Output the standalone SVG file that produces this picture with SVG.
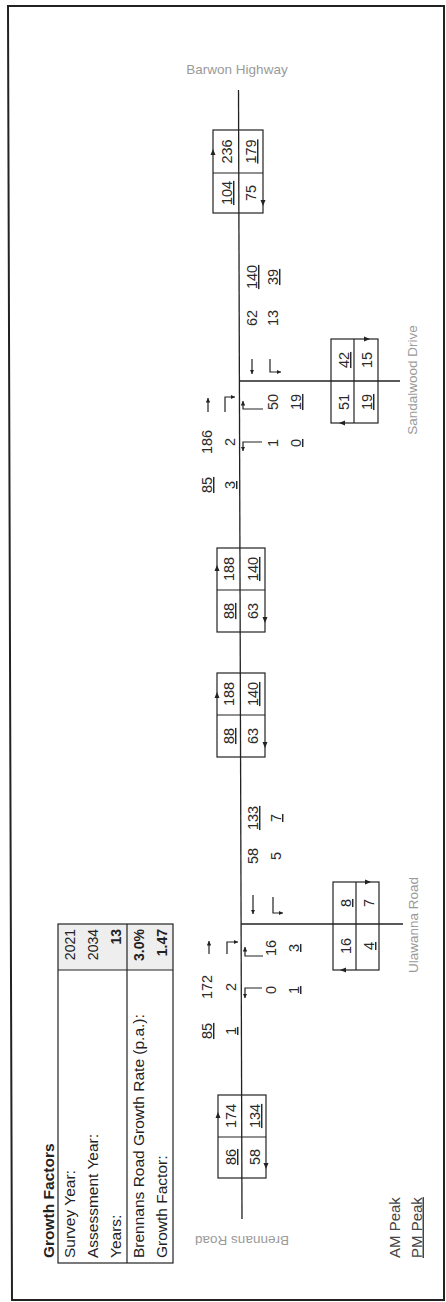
<svg xmlns="http://www.w3.org/2000/svg" width="446" height="1302" viewBox="0 0 446 1302">
<defs>
<style>
.n{font-family:"Liberation Sans",Arial,sans-serif;font-size:14.5px;fill:#2a2a2a;text-anchor:middle}
.u{text-decoration:underline}
.g{font-family:"Liberation Sans",Arial,sans-serif;font-size:13.5px;fill:#9a9a9a;text-anchor:middle}
.t{font-family:"Liberation Sans",Arial,sans-serif;font-size:15.5px;fill:#222}
.v{font-family:"Liberation Sans",Arial,sans-serif;font-size:14px;fill:#222;text-anchor:end}
.b{font-weight:bold}
.lg{font-family:"Liberation Sans",Arial,sans-serif;font-size:15px;fill:#444}
.ln{stroke:#222;stroke-width:1.3;fill:none}
.bx{stroke:#222;stroke-width:1.2;fill:none}
.ar{stroke:#222;stroke-width:1.2;fill:none;marker-end:url(#ah)}
.hd{fill:#222}
</style>
<marker id="ah" viewBox="0 0 8 8" refX="8" refY="4" markerWidth="4.5" markerHeight="4.5" orient="auto" markerUnits="userSpaceOnUse"><path d="M0,0 L8,4 L0,8 z" fill="#222"/></marker>
</defs>
<rect x="0" y="0" width="446" height="1302" fill="#fff"/>
<g id="frame"><path d="M8,6 L444,6 L444,1300 L12,1300 Z" fill="none" stroke="#222" stroke-width="2"/></g>

<g id="growth-factors">
<rect x="58" y="924" width="115" height="46" fill="#eeeeee"/>
<rect x="58" y="924" width="115" height="339" class="bx"/>
<line x1="127" y1="924" x2="127" y2="1263" class="bx"/>
<line x1="58" y1="970" x2="173" y2="970" class="bx"/>
<text class="t b" transform="translate(48,1258) rotate(-90)" y="5.5" font-size="15">Growth Factors</text>
<text class="t" transform="translate(69.5,1258) rotate(-90)" y="5.5">Survey Year:</text>
<text class="t" transform="translate(92.5,1258) rotate(-90)" y="5.5">Assessment Year:</text>
<text class="t" transform="translate(115.5,1258) rotate(-90)" y="5.5">Years:</text>
<text class="t" transform="translate(138.5,1258) rotate(-90)" y="5.5">Brennans Road Growth Rate (p.a.):</text>
<text class="t" transform="translate(161.5,1258) rotate(-90)" y="5.5">Growth Factor:</text>
<text class="v" transform="translate(69.5,929) rotate(-90)" y="5">2021</text>
<text class="v" transform="translate(92.5,929) rotate(-90)" y="5">2034</text>
<text class="v b" transform="translate(115.5,929) rotate(-90)" y="5">13</text>
<text class="v b" transform="translate(138.5,929) rotate(-90)" y="5">3.0%</text>
<text class="v b" transform="translate(161.5,929) rotate(-90)" y="5">1.47</text>
</g>

<g id="connectors">
<line x1="238.5" y1="90" x2="242" y2="1219" class="ln"/>
<line x1="241" y1="924" x2="403" y2="924" class="ln"/>
<line x1="239.4" y1="381" x2="400" y2="381" class="ln"/>
</g>

<g id="box-barwon">
<rect x="213" y="130" width="50" height="83" class="bx"/>
<line x1="213" y1="173" x2="263" y2="173" class="bx"/>
<polygon class="hd" points="210.5,155 213,149 215.5,155"/>
<polygon class="hd" points="260.5,200 263,206 265.5,200"/>
<text class="n" transform="translate(227,151.5) rotate(-90)" y="5">236</text>
<text class="n u" transform="translate(251,151.5) rotate(-90)" y="5">179</text>
<text class="n u" transform="translate(227,193) rotate(-90)" y="5">104</text>
<text class="n" transform="translate(251,193) rotate(-90)" y="5">75</text>
</g>

<g id="box-mid-east">
<rect x="217" y="548" width="48" height="84" class="bx"/>
<line x1="217" y1="590" x2="265" y2="590" class="bx"/>
<polygon class="hd" points="214.5,571 217,565 219.5,571"/>
<polygon class="hd" points="262.5,617 265,623 267.5,617"/>
<text class="n" transform="translate(229,569) rotate(-90)" y="5">188</text>
<text class="n u" transform="translate(253,569) rotate(-90)" y="5">140</text>
<text class="n u" transform="translate(229,611) rotate(-90)" y="5">88</text>
<text class="n" transform="translate(253,611) rotate(-90)" y="5">63</text>
</g>

<g id="box-mid-west">
<rect x="217" y="673" width="48" height="84" class="bx"/>
<line x1="217" y1="715" x2="265" y2="715" class="bx"/>
<polygon class="hd" points="214.5,698 217,692 219.5,698"/>
<polygon class="hd" points="262.5,742 265,748 267.5,742"/>
<text class="n" transform="translate(229,694) rotate(-90)" y="5">188</text>
<text class="n u" transform="translate(253,694) rotate(-90)" y="5">140</text>
<text class="n u" transform="translate(229,736) rotate(-90)" y="5">88</text>
<text class="n" transform="translate(253,736) rotate(-90)" y="5">63</text>
</g>

<g id="box-brennans">
<rect x="218" y="1095" width="48" height="83" class="bx"/>
<line x1="218" y1="1137" x2="266" y2="1137" class="bx"/>
<polygon class="hd" points="215.5,1118 218,1112 220.5,1118"/>
<polygon class="hd" points="263.5,1163 266,1169 268.5,1163"/>
<text class="n" transform="translate(231,1116) rotate(-90)" y="5">174</text>
<text class="n u" transform="translate(255,1116) rotate(-90)" y="5">134</text>
<text class="n u" transform="translate(231,1157) rotate(-90)" y="5">86</text>
<text class="n" transform="translate(255,1157) rotate(-90)" y="5">58</text>
</g>

<g id="box-ulawanna">
<rect x="333" y="882" width="46" height="88" class="bx"/>
<line x1="356" y1="882" x2="356" y2="970" class="bx"/>
<polygon class="hd" points="365,879.5 371,882 365,884.5"/>
<polygon class="hd" points="346,967.5 340,970 346,972.5"/>
<text class="n u" transform="translate(346,903) rotate(-90)" y="5">8</text>
<text class="n" transform="translate(369,903) rotate(-90)" y="5">7</text>
<text class="n" transform="translate(346,946) rotate(-90)" y="5">16</text>
<text class="n u" transform="translate(369,946) rotate(-90)" y="5">4</text>
</g>

<g id="box-sandalwood">
<rect x="331" y="339" width="47" height="84" class="bx"/>
<line x1="354" y1="339" x2="354" y2="423" class="bx"/>
<polygon class="hd" points="364,336.5 370,339 364,341.5"/>
<polygon class="hd" points="345,420.5 339,423 345,425.5"/>
<text class="n u" transform="translate(344,360) rotate(-90)" y="5">42</text>
<text class="n" transform="translate(367,360) rotate(-90)" y="5">15</text>
<text class="n" transform="translate(344,402) rotate(-90)" y="5">51</text>
<text class="n u" transform="translate(367,402) rotate(-90)" y="5">19</text>
</g>

<g id="int-ulawanna">
<text class="n u" transform="translate(207,1031) rotate(-90)" y="5">85</text>
<text class="n u" transform="translate(231,1031) rotate(-90)" y="5">1</text>
<text class="n" transform="translate(207,987) rotate(-90)" y="5">172</text>
<text class="n" transform="translate(231,987) rotate(-90)" y="5">2</text>
<path class="ar" d="M209,954 V941"/>
<path class="ar" d="M227,954 V942 H238"/>
<path class="ar" d="M263,956 H245 V947"/>
<path class="ar" d="M262,988 H245 V998"/>
<text class="n" transform="translate(271,948) rotate(-90)" y="5">16</text>
<text class="n u" transform="translate(294,948) rotate(-90)" y="5">3</text>
<text class="n" transform="translate(271,990) rotate(-90)" y="5">0</text>
<text class="n u" transform="translate(294,990) rotate(-90)" y="5">1</text>
<path class="ar" d="M253,895 V914"/>
<path class="ar" d="M273,897 V913 H283"/>
<text class="n" transform="translate(253,856) rotate(-90)" y="5">58</text>
<text class="n" transform="translate(276,856) rotate(-90)" y="5">5</text>
<text class="n u" transform="translate(253,818) rotate(-90)" y="5">133</text>
<text class="n u" transform="translate(276,818) rotate(-90)" y="5">7</text>
</g>

<g id="int-sandalwood">
<text class="n u" transform="translate(207,485) rotate(-90)" y="5">85</text>
<text class="n u" transform="translate(230,485) rotate(-90)" y="5">3</text>
<text class="n" transform="translate(207,442) rotate(-90)" y="5">186</text>
<text class="n" transform="translate(230,442) rotate(-90)" y="5">2</text>
<path class="ar" d="M208,412 V398"/>
<path class="ar" d="M225,412 V397 H235"/>
<path class="ar" d="M263,409 H243 V401"/>
<path class="ar" d="M262,442 H243 V451"/>
<text class="n" transform="translate(273,402) rotate(-90)" y="5">50</text>
<text class="n u" transform="translate(296,402) rotate(-90)" y="5">19</text>
<text class="n" transform="translate(273,443) rotate(-90)" y="5">1</text>
<text class="n u" transform="translate(296,443) rotate(-90)" y="5">0</text>
<path class="ar" d="M252,359 V374"/>
<path class="ar" d="M270,359 V372 H281"/>
<text class="n" transform="translate(252,318) rotate(-90)" y="5">62</text>
<text class="n" transform="translate(273,318) rotate(-90)" y="5">13</text>
<text class="n u" transform="translate(252,277) rotate(-90)" y="5">140</text>
<text class="n u" transform="translate(273,277) rotate(-90)" y="5">39</text>
</g>

<g id="road-labels">
<text class="g" x="237" y="74">Barwon Highway</text>
<text class="g" transform="translate(242,1240) rotate(180)" y="4">Brennans Road</text>
<text class="g" transform="translate(413,925) rotate(-90)" y="4.5">Ulawanna Road</text>
<text class="g" transform="translate(412,380) rotate(-90)" y="4.5">Sandalwood Drive</text>
</g>

<g id="legend">
<text class="lg" transform="translate(394,1258) rotate(-90)" y="5.5">AM Peak</text>
<text class="lg u" transform="translate(416,1258) rotate(-90)" y="5.5">PM Peak</text>
</g>
</svg>
